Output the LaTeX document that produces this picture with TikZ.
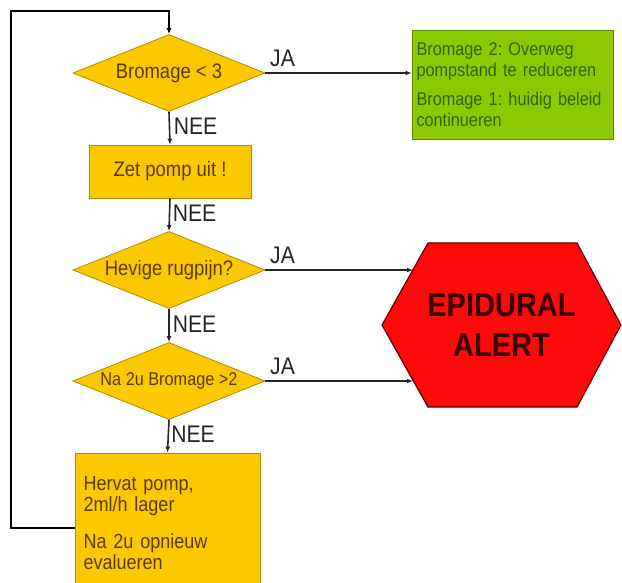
\documentclass[tikz,border=0pt]{standalone}
\usepackage{fontspec}
\setmainfont{Liberation Sans}[FakeStretch=0.88]
\frenchspacing
\usetikzlibrary{shapes.geometric,arrows.meta}
\definecolor{geel}{HTML}{FCC800}
\definecolor{geelrand}{HTML}{B08A00}
\definecolor{geeltekst}{HTML}{5A3A00}
\definecolor{groen}{HTML}{8DC800}
\definecolor{groenrand}{HTML}{5E8C00}
\definecolor{groentekst}{HTML}{2E6400}
\definecolor{rood}{HTML}{FF0A0A}
\definecolor{roodrand}{HTML}{5A0000}
\definecolor{roodtekst}{HTML}{3A0000}
\tikzset{
  keuze/.style={diamond, aspect=2.4, minimum width=192pt, minimum height=77pt, inner sep=0pt,
    fill=geel, draw=geelrand, line width=0.8pt, text=geeltekst},
  actie/.style={rectangle, fill=geel, draw=geelrand, line width=0.8pt, text=geeltekst},
  advies/.style={rectangle, fill=groen, draw=groenrand, line width=0.8pt, text=groentekst},
  pijl/.style={draw=black!85, line width=1.6pt, -{Latex[length=6pt,width=5pt]}},
  terug/.style={draw=black, line width=2.2pt, -{Latex[length=6pt,width=5pt]}},
  ja/.style={font=\fontsize{24}{26}\selectfont, text=black!85, anchor=south west, inner xsep=4pt, inner ysep=5pt},
  nee/.style={font=\fontsize{24}{26}\selectfont, text=black!85, anchor=south west, inner xsep=3pt, inner ysep=9pt}
}
\begin{document}
\begin{tikzpicture}[x=1pt, y=1pt, yscale=-1]
\useasboundingbox (0,0) rectangle (622,583);
\node[keuze, font=\fontsize{21}{24}\selectfont] (bromage) at (169,73) {Bromage < 3};
\node[actie, minimum width=162pt, minimum height=53pt, font=\fontsize{21}{24}\selectfont] (zet) at (170,171.5) {Zet pomp uit !};
\node[keuze, font=\fontsize{21}{24}\selectfont] (hevig) at (169,270) {Hevige rugpijn?};
\node[keuze, font=\fontsize{18.5}{22}\selectfont] (nacheck) at (169,381) {Na 2u Bromage >2};
\node[actie, minimum width=185pt, minimum height=140pt, text width=168pt, inner xsep=8.5pt, align=left,
  font=\fontsize{20.5}{21}\selectfont] (hervat) at (167.5,523)
  {Hervat pomp,\\2ml/h lager\\[16pt]Na 2u opnieuw\\evalueren};
\node[advies, minimum width=201pt, minimum height=109pt, text width=192pt, inner xsep=4.5pt, align=left,
  font=\fontsize{18.5}{21}\selectfont] (verlaag) at (512.5,84.5)
  {Bromage 2: Overweg\\pompstand te reduceren\\[8pt]Bromage 1: huidig beleid\\continueren};
\coordinate (hL) at (382,325);
\coordinate (hTL) at (428,243);
\coordinate (hTR) at (577,243);
\coordinate (hR) at (621,325);
\coordinate (hBR) at (577,407);
\coordinate (hBL) at (428,407);
\fill[rood, draw=roodrand, line width=1.2pt] (hL) -- (hTL) -- (hTR) -- (hR) -- (hBR) -- (hBL) -- cycle;
\node[text=roodtekst, align=center, font=\bfseries\fontsize{33}{40}\selectfont] (alert) at (501.5,325) {EPIDURAL\\ALERT};
\coordinate (alertrug) at (413,270);
\coordinate (alertna) at (413,381);
\coordinate (hoek) at (11,11);
\draw[pijl] (bromage.south) -- (zet.north) node[nee, pos=1] {NEE};
\draw[pijl] (zet.south) -- (hevig.north) node[nee, pos=1] {NEE};
\draw[pijl] (hevig.south) -- (nacheck.north) node[nee, pos=1] {NEE};
\draw[pijl] (nacheck.south) -- (hervat.north) node[nee, pos=1] {NEE};
\draw[pijl] (bromage.east) -- (bromage.east -| verlaag.west) node[ja, pos=0] {JA};
\draw[pijl] (hevig.east) -- (alertrug) node[ja, pos=0] {JA};
\draw[pijl] (nacheck.east) -- (alertna) node[ja, pos=0] {JA};
\draw[terug] ([yshift=5pt]hervat.west) -| (hoek) -| (bromage.north);
\end{tikzpicture}
\end{document}
